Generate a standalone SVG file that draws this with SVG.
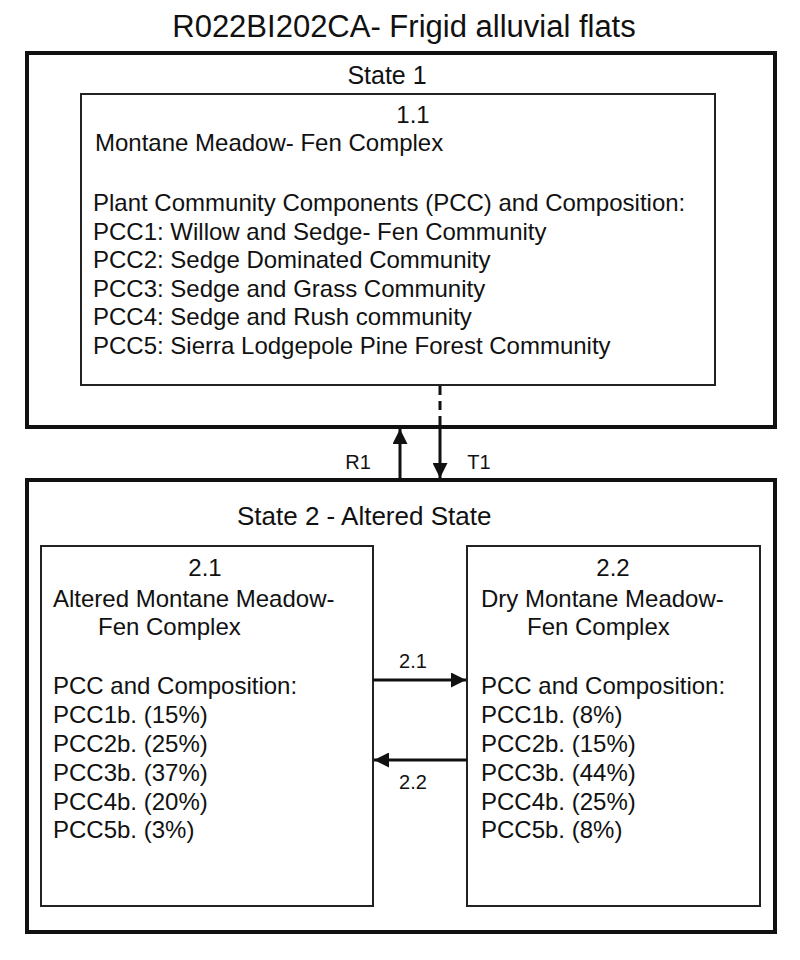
<svg xmlns="http://www.w3.org/2000/svg" width="800" height="960" viewBox="0 0 800 960">
<style>
text{font-family:"Liberation Sans",Arial,sans-serif;fill:#111;}
.t{font-size:24px;}
.c{text-anchor:middle;}
.outer{fill:none;stroke:#111;stroke-width:4;}
.inner{fill:none;stroke:#222;stroke-width:2;}
.conn{stroke:#111;stroke-width:3;fill:none;}
.lbl{font-size:20px;text-anchor:middle;}
</style>
<defs>
<marker id="ah" viewBox="0 0 10 10" refX="10" refY="5" markerWidth="5" markerHeight="5" orient="auto" markerUnits="strokeWidth">
<path d="M0,0 L10,5 L0,10 z" fill="#111"/>
</marker>
</defs>
<rect width="800" height="960" fill="#fff"/>
<text x="404" y="37" class="c" style="font-size:31px">R022BI202CA- Frigid alluvial flats</text>

<g id="state1">
<rect class="outer" x="27" y="53" width="748" height="374"/>
<text x="387" y="84" class="c" style="font-size:25px">State 1</text>
</g>
<g id="node-1-1">
<rect class="inner" x="81" y="94" width="634" height="291"/>
<text x="413" y="123" class="t c">1.1</text>
<text class="t" x="95" y="151">Montane Meadow- Fen Complex</text>
<text class="t" x="93" y="211">Plant Community Components (PCC) and Composition:</text>
<text class="t" x="93" y="240">PCC1: Willow and Sedge- Fen Community</text>
<text class="t" x="93" y="268">PCC2: Sedge Dominated Community</text>
<text class="t" x="93" y="297">PCC3: Sedge and Grass Community</text>
<text class="t" x="93" y="325">PCC4: Sedge and Rush community</text>
<text class="t" x="93" y="354">PCC5: Sierra Lodgepole Pine Forest Community</text>
</g>

<g id="state2">
<rect class="outer" x="27" y="480" width="748" height="452"/>
<text x="237" y="525" style="font-size:26px">State 2 - Altered State</text>
</g>
<g id="node-2-1">
<rect class="inner" x="41" y="546" width="332" height="360"/>
<text x="205" y="576" class="t c">2.1</text>
<text class="t" x="53" y="607">Altered Montane Meadow-</text>
<text class="t" x="98" y="635">Fen Complex</text>
<text class="t" x="53" y="694">PCC and Composition:</text>
<text class="t" x="53" y="723">PCC1b. (15%)</text>
<text class="t" x="53" y="752">PCC2b. (25%)</text>
<text class="t" x="53" y="781">PCC3b. (37%)</text>
<text class="t" x="53" y="810">PCC4b. (20%)</text>
<text class="t" x="53" y="838">PCC5b. (3%)</text>
</g>
<g id="node-2-2">
<rect class="inner" x="467" y="546" width="293" height="360"/>
<text x="613" y="576" class="t c">2.2</text>
<text class="t" x="481" y="607">Dry Montane Meadow-</text>
<text class="t" x="527" y="635">Fen Complex</text>
<text class="t" x="481" y="694">PCC and Composition:</text>
<text class="t" x="481" y="723">PCC1b. (8%)</text>
<text class="t" x="481" y="752">PCC2b. (15%)</text>
<text class="t" x="481" y="781">PCC3b. (44%)</text>
<text class="t" x="481" y="810">PCC4b. (25%)</text>
<text class="t" x="481" y="838">PCC5b. (8%)</text>
</g>

<g id="connectors">
<line class="conn" x1="440" y1="386" x2="440" y2="426" stroke-dasharray="9,6"/>
<line class="conn" x1="440" y1="429" x2="440" y2="478" marker-end="url(#ah)"/>
<line class="conn" x1="400" y1="478" x2="400" y2="429" marker-end="url(#ah)"/>
<line class="conn" x1="373" y1="680" x2="466" y2="680" marker-end="url(#ah)"/>
<line class="conn" x1="467" y1="760" x2="374" y2="760" marker-end="url(#ah)"/>
<text x="358" y="469" class="lbl">R1</text>
<text x="479" y="469" class="lbl">T1</text>
<text x="413" y="668" class="lbl">2.1</text>
<text x="413" y="789" class="lbl">2.2</text>
</g>
</svg>
